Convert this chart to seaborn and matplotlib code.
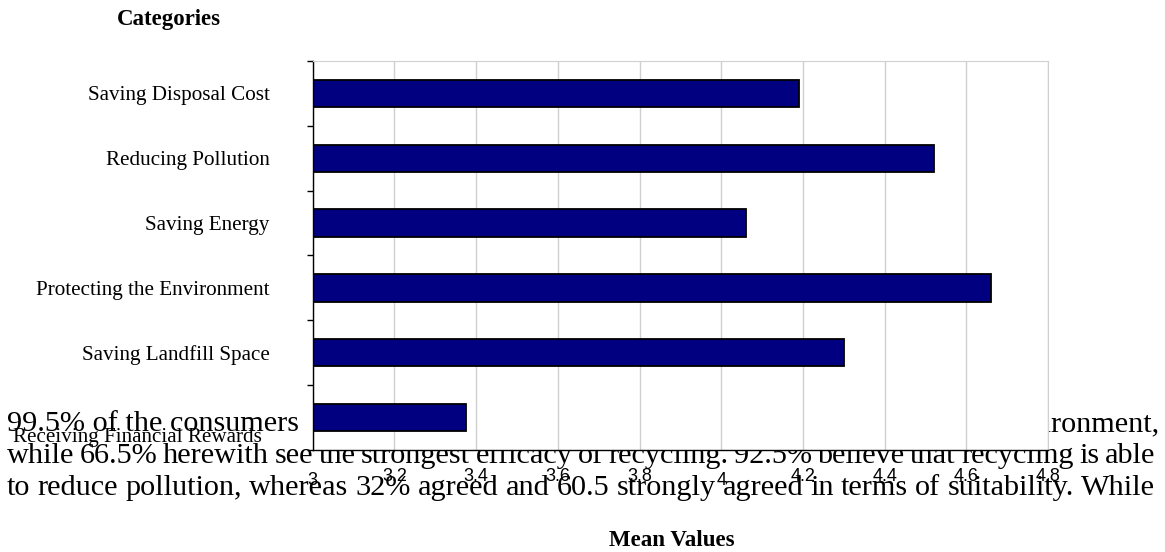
import numpy as np
import seaborn as sns
import matplotlib.pyplot as plt
import matplotlib.transforms as mtransforms

# Mean value per recycling benefit (top to bottom)
categories = ["Saving Disposal Cost", "Reducing Pollution", "Saving Energy",
              "Protecting the Environment", "Saving Landfill Space",
              "Receiving Financial Rewards"]
mean_values = [4.19, 4.52, 4.06, 4.66, 4.30, 3.375]
x_ticks = [3.0, 3.2, 3.4, 3.6, 3.8, 4.0, 4.2, 4.4, 4.6, 4.8]
x_tick_labels = ["3", "3.2", "3.4", "3.6", "3.8", "4", "4.2", "4.4", "4.6", "4.8"]

# body text of the page that shows through behind the chart
text_line1_left = "99.5% of the consumers"
text_line1_right = "environment,"
text_line2 = "while 66.5% herewith see the strongest efficacy of recycling. 92.5% believe that recycling is able"
text_line3 = "to reduce pollution, whereas 32% agreed and 60.5 strongly agreed in terms of suitability. While"

sns.set_style("white")
plt.rcParams["font.family"] = ["Liberation Serif", "DejaVu Serif"]
plt.rcParams["text.color"] = "black"
plt.rcParams["xtick.color"] = "black"
plt.rcParams["ytick.color"] = "black"

W, H = 1165, 552
fig = plt.figure(figsize=(W / 100, H / 100), dpi=100)
ax = fig.add_axes([312.7 / W, 1 - 450 / H, (1048 - 312.7) / W, (450 - 61) / H])

sns.barplot(x=mean_values, y=categories, orient="h", color="#000080", saturation=1,
            edgecolor="black", linewidth=1.3, width=0.42, ax=ax)

ax.set_xlim(3, 4.8)
ax.set_ylim(5.5, -0.5)
ax.set_xlabel("")
ax.set_ylabel("")
ax.set_xticks(x_ticks)
ax.set_xticklabels(x_tick_labels, family="Liberation Sans", fontsize=13)
ax.tick_params(axis="x", length=0, pad=13)
ax.set_yticks(range(len(categories)))
ax.set_yticklabels(categories, fontsize=15.2)
ax.tick_params(axis="y", which="major", left=False, length=0, pad=31)
ax.set_yticks(np.arange(-0.5, len(categories), 1), minor=True)
ax.tick_params(axis="y", which="minor", left=True, length=4.5, width=1, color="black", direction="out")
ax.grid(axis="x", color="#d0d0d0", linewidth=1)
ax.set_axisbelow(True)
for side in ["top", "right"]:
    ax.spines[side].set_color("#d0d0d0")
for side in ["left", "bottom"]:
    ax.spines[side].set_color("black")
    ax.spines[side].set_linewidth(1)

# integer tick labels sit a little lower, last category label sits low
for lab in ax.get_xticklabels():
    if "." not in lab.get_text():
        lab.set_transform(lab.get_transform() + mtransforms.ScaledTranslation(0, -4 / 100, fig.dpi_scale_trans))
last = ax.get_yticklabels()[-1]
last.set_transform(last.get_transform() + mtransforms.ScaledTranslation(-8 / 100, -17 / 100, fig.dpi_scale_trans))

fig.text(169 / W, 1 - 20 / H, "Categories", ha="center", va="center", fontsize=16.5, fontweight="bold")
fig.text(672 / W, 1 - 541 / H, "Mean Values", ha="center", va="center", fontsize=16.5, fontweight="bold")

# paragraph text, justified between x=7 and x=1155, drawn under the axes
para_size = 21.8
left_px, right_px = 7, 1155
renderer = fig.canvas.get_renderer()


def justified(line, baseline):
    words = line.split(" ")
    objs = [fig.text(0, 1 - baseline / H, w, fontsize=para_size, va="baseline", zorder=-1) for w in words]
    widths = [o.get_window_extent(renderer).width for o in objs]
    gap = (right_px - left_px - sum(widths)) / (len(words) - 1)
    x = left_px
    for o, w in zip(objs, widths):
        o.set_x(x / W)
        x += w + gap


fig.text(left_px / W, 1 - 431 / H, text_line1_left, fontsize=para_size, va="baseline", zorder=-1)
fig.text((right_px + 5) / W, 1 - 431 / H, text_line1_right, fontsize=para_size, va="baseline", ha="right", zorder=-1)
justified(text_line2, 463)
justified(text_line3, 495)

fig.savefig("out.png", dpi=100)
